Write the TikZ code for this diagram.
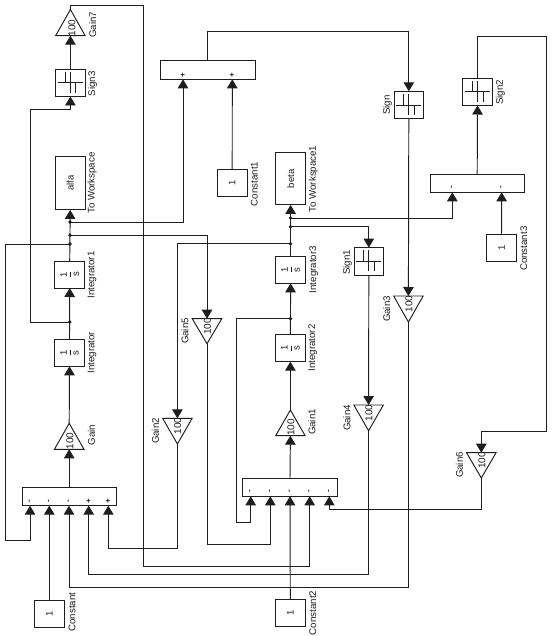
\documentclass[tikz,border=0pt]{standalone}
\usepackage{fontspec}
\setmainfont{Liberation Sans}
\usetikzlibrary{arrows.meta,calc}
\definecolor{ink}{HTML}{1E1E1E}
\tikzset{
  blk/.style={draw=ink,line width=0.95pt,inner sep=0pt,outer sep=0pt,text=ink,font=\fontsize{9.5}{10}\selectfont},
  tribox/.style={inner sep=0pt,outer sep=0pt,minimum width=29.5pt},
  tri/.style={draw=ink,line width=0.95pt,line join=miter},
  lbl/.style={rotate=90,inner sep=0pt,text=ink,font=\fontsize{9.7}{10}\selectfont},
  val/.style={rotate=90,inner sep=0pt,text=ink,font=\fontsize{10}{10}\selectfont},
  sgn/.style={rotate=90,inner sep=0pt,text=ink,font=\fontsize{8}{8}\bfseries\selectfont},
  wire/.style={draw=ink,line width=0.95pt},
  arr/.style={wire,-{Triangle[length=9pt,width=10.5pt]}},
  dot/.style={circle,fill=ink,inner sep=0pt,minimum size=3.8pt},
  icon/.style={draw=ink,line width=0.95pt}
}
% up-pointing gain: name, x, apex y, base y
\newcommand{\gainup}[4]{%
  \node[tribox,minimum height={#4-#3}] (#1) at ({#2},{(#3+#4)/2}) {};
  \draw[tri] (#1.south west) -- (#1.south east) -- (#1.north) -- cycle;
}
% down-pointing gain: name, x, base y, apex y
\newcommand{\gaindown}[4]{%
  \node[tribox,minimum height={#4-#3}] (#1) at ({#2},{(#3+#4)/2}) {};
  \draw[tri] (#1.north west) -- (#1.north east) -- (#1.south) -- cycle;
}
% sign block: name, x, y
\newcommand{\signblk}[3]{%
  \node[blk,minimum width=29.6pt,minimum height=27.4pt] (#1) at (#2,#3) {};
  \draw[icon] ($(#1.center)+(-12.5,0)$) -- ($(#1.center)+(12.5,0)$);
  \draw[icon] ($(#1.center)+(0,-11)$) -- ($(#1.center)+(0,10)$);
  \draw[icon] ($(#1.center)+(-5,-11)$) -- ($(#1.center)+(-5,0)$);
  \draw[icon] ($(#1.center)+(5.5,0)$) -- ($(#1.center)+(5.5,10)$);
}
\newcommand{\intblk}[3]{%
  \node[blk,minimum width=29.8pt,minimum height=27pt] (#1) at (#2,#3)
    {\rotatebox{90}{$\displaystyle{\hbox{1}\over\hbox{s}}$}};
}
\begin{document}
\begin{tikzpicture}[x=1pt,y=-1pt]
\useasboundingbox (0,0) rectangle (552,636);
\fill[white] (0,0) rectangle (552,636);

% left column
\gainup{gaingS}{70.4}{9.5}{35.7}
\node[val] (vS) at (72,28) {100};
\signblk{signT}{70.4}{82.8}
\node[blk,minimum width=29.6pt,minimum height=53.3pt] (alfa) at (70.2,183.3) {\rotatebox{90}{alfa}};
\intblk{intB}{69.7}{274.5}
\intblk{intA}{69.5}{352.8}
\gainup{gainA}{69.2}{423.3}{449.3}
\node[val] (vA) at (70,441) {100};
\node[blk,minimum width=94.3pt,minimum height=18.4pt] (sumA) at (69.2,496.5) {};
\node[blk,minimum width=30pt,minimum height=27.4pt] (constA) at (49.3,614) {\rotatebox{90}{1}};

% top middle
\node[blk,minimum width=95pt,minimum height=18.6pt] (sumB) at (207.8,70) {};
\node[blk,minimum width=29.7pt,minimum height=27.4pt] (constB) at (232.2,183) {\rotatebox{90}{1}};

% gains between columns
\gaindown{gainE}{207}{318.7}{343.7}
\node[val] (vE) at (207.5,326.5) {100};
\gaindown{gainC}{177.4}{418.3}{444}
\node[val] (vC) at (177.8,426) {100};

% centre column
\node[blk,minimum width=30pt,minimum height=52.3pt] (beta) at (290.6,178.8) {\rotatebox{90}{beta}};
\intblk{intD}{290.6}{269.8}
\intblk{intCC}{290.4}{348.2}
\gainup{gainB}{290.4}{410}{435.7}
\node[val] (vB) at (291,427.5) {100};
\node[blk,minimum width=94.6pt,minimum height=18pt] (sumC) at (290,487.3) {};
\node[blk,minimum width=29.6pt,minimum height=27pt] (constC) at (290.3,613.2) {\rotatebox{90}{1}};

% right part
\signblk{signA}{408.8}{105}
\signblk{signB}{368.8}{261.3}
\gaindown{gainD}{408.4}{296}{322}
\node[val] (vD) at (409,304) {100};
\gaindown{gainF}{368.6}{405}{430.7}
\node[val] (vF) at (369,413) {100};
\gaindown{gainG}{481.3}{452.7}{478}
\node[val] (vG) at (482,460.5) {100};
\signblk{signC}{477.5}{91.8}
\node[blk,minimum width=94.3pt,minimum height=18.3pt] (sumD) at (477.2,183.2) {};
\node[blk,minimum width=29.6pt,minimum height=27pt] (constD) at (501.5,248.2) {\rotatebox{90}{1}};

% block labels
\node[lbl] (l1) at (92.7,25) {Gain7};
\node[lbl] (l2) at (92.7,84) {Sign3};
\node[lbl] (l3) at (92,183) {To Workspace};
\node[lbl] (l4) at (92,275) {Integrator1};
\node[lbl] (l5) at (92,352.7) {Integrator};
\node[lbl] (l6) at (91.5,435) {Gain};
\node[lbl] (l7) at (72,612) {Constant};
\node[lbl] (l8) at (254.3,184) {Constant1};
\node[lbl] (l9) at (185,331) {Gain5};
\node[lbl] (l10) at (155.3,431) {Gain2};
\node[lbl] (l11) at (313.3,179) {To Workspace1};
\node[lbl] (l12) at (313.7,269.7) {Integrator3};
\node[lbl] (l13) at (312.7,348) {Integrator2};
\node[lbl] (l14) at (312,422) {Gain1};
\node[lbl] (l15) at (387.3,105) {Sign};
\node[lbl] (l16) at (347.3,262.5) {Sign1};
\node[lbl] (l17) at (386.7,309) {Gain3};
\node[lbl] (l18) at (347,418) {Gain4};
\node[lbl] (l19) at (459.3,465) {Gain6};
\node[lbl] (l20) at (500.3,92.5) {Sign2};
\node[lbl] (l21) at (523.7,248.7) {Constant3};
\node[lbl] (l22) at (312.7,613) {Constant2};

% port signs
\foreach \n/\x/\s in {a/30/-,b/49.3/-,c/69/-,d/88.7/+,e/108.3/+}
  \node[sgn] (sa\n) at (\x,501) {\s};
\foreach \n/\x in {a/250.7,b/270.3,c/290,d/309.7,e/329.3}
  \node[sgn] (sc\n) at (\x,491.5) {-};
\foreach \n/\x in {a/183,b/232.3}
  \node[sgn] (sb\n) at (\x,75) {+};
\foreach \n/\x in {a/452.3,b/501.7}
  \node[sgn] (sd\n) at (\x,187.5) {-};

% port coordinates
\coordinate (pa1) at (30,505.7);
\coordinate (pa2) at (49.3,505.7);
\coordinate (pa3) at (69,505.7);
\coordinate (pa4) at (88.7,505.7);
\coordinate (pa5) at (108.3,505.7);
\coordinate (pb1) at (183,79.3);
\coordinate (pb2) at (232.3,79.3);
\coordinate (pc1) at (250.7,496.3);
\coordinate (pc2) at (270.3,496.3);
\coordinate (pc3) at (290,496.3);
\coordinate (pc4) at (309.7,496.3);
\coordinate (pc5) at (329.3,496.3);
\coordinate (pd1) at (452.3,192.3);
\coordinate (pd2) at (501.7,192.3);

% junctions
\node[dot] (j1) at (70,222) {};
\node[dot] (j2) at (70,235.3) {};
\node[dot] (j3) at (70,244) {};
\node[dot] (j4) at (69.7,322) {};
\node[dot] (j5) at (290.5,218) {};
\node[dot] (j6) at (290.5,226.7) {};
\node[dot] (j7) at (290.5,243.7) {};
\node[dot] (j8) at (290.4,318.7) {};

% straight chains
\draw[arr] (sumA.north) -- (gainA.south);
\draw[arr] (gainA.north) -- (intA.south);
\draw[arr] (intA.north) -- (intB.south);
\draw[arr] (intB.north) -- (alfa.south);
\draw[arr] (signT.north) -- (gaingS.south);
\draw[arr] (constA.north) -- (pa2);
\draw[arr] (constB.north) -- (pb2);
\draw[arr] (constC.north) -- (pc3);
\draw[arr] (constD.north) -- (pd2);
\draw[arr] (sumC.north) -- (gainB.south);
\draw[arr] (gainB.north) -- (intCC.south);
\draw[arr] (intCC.north) -- (intD.south);
\draw[arr] (intD.north) -- (beta.south);
\draw[arr] (signA.south) -- (gainD.north);
\draw[arr] (signB.south) -- (gainF.north);
\draw[arr] (sumD.north) -- (signC.south);

% routed connectors
\coordinate (gsA) at (70.4,5);
\coordinate (gsB) at (143.5,5);
\coordinate (gsC) at (143.5,566.3);
\draw[arr] (gaingS.north) -- (gsA) -- (gsB) -- (gsC) -| (pc4);
\draw[arr] (j1.center) -| (pb1);
\draw[arr] (j2.center) -| (gainE.north);
\coordinate (a1) at (5.7,244);
\coordinate (a2) at (5.7,540.3);
\draw[arr] (j3.center) -- (a1) -- (a2) -| (pa1);
\coordinate (b1) at (30.3,322);
\coordinate (b2) at (30.3,109.3);
\draw[arr] (j4.center) -- (b1) -- (b2) -| (signT.south);
\coordinate (c1) at (207,544.3);
\draw[arr] (gainE.south) -- (c1) -| (pc2);
\coordinate (d1) at (177.4,243.7);
\draw[arr] (j7.center) -- (d1) -- (gainC.north);
\coordinate (e1) at (177.4,548.7);
\draw[arr] (gainC.south) -- (e1) -| (pa5);
\coordinate (f1) at (236.3,318.7);
\coordinate (f2) at (236.3,522.7);
\draw[arr] (j8.center) -- (f1) -- (f2) -| (pc1);
\draw[arr] (j5.center) -| (pd1);
\draw[arr] (j6.center) -| (signB.north);
\coordinate (g1) at (368.6,574.3);
\draw[arr] (gainF.south) -- (g1) -| (pa4);
\coordinate (h1) at (207.8,31.7);
\coordinate (h2) at (408.8,31.7);
\draw[arr] (sumB.north) -- (h1) -- (h2) -- (signA.north);
\coordinate (i1) at (408.4,587.3);
\draw[arr] (gainD.south) -- (i1) -| (pa3);
\coordinate (k1) at (477.5,36);
\coordinate (k2) at (546.7,36);
\coordinate (k3) at (546.7,431);
\coordinate (k4) at (481.3,431);
\draw[arr] (signC.north) -- (k1) -- (k2) -- (k3) -- (k4) -- (gainG.north);
\coordinate (m1) at (481.3,509);
\draw[arr] (gainG.south) -- (m1) -| (pc5);
\end{tikzpicture}
\end{document}
